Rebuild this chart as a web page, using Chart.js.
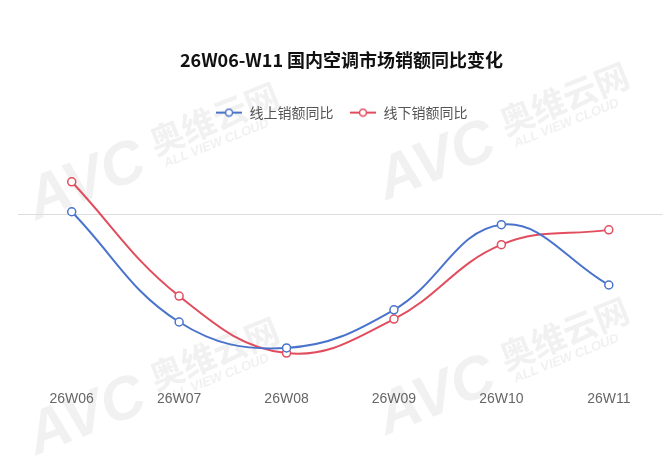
<!DOCTYPE html>
<html>
<head>
<meta charset="utf-8">
<script src="https://cdn.jsdelivr.net/npm/chart.js@4/dist/chart.umd.min.js"></script>
<style>
  html, body { margin: 0; padding: 0; background: #fff; }
  #wrap { width: 669px; height: 474px; position: relative; }
</style>
</head>
<body>
<div id="wrap"><canvas id="yoyChart"></canvas></div>
<script>
const weeks = ['26W06', '26W07', '26W08', '26W09', '26W10', '26W11'];
const onlineYoy = [0.8, -29, -36, -25.7, -2.7, -19];
const offlineYoy = [8.9, -22, -37.4, -28.2, -8.1, -4.1];
const seriesNames = ['线上销额同比', '线下销额同比'];
const blue = '#4a74cc';
const red = '#e24d5e';

// legend marker: short line with a hollow circle
function legendMarker(color) {
    const c = document.createElement('canvas');
    c.width = 26; c.height = 10;
    const g = c.getContext('2d');
    g.strokeStyle = color;
    g.lineWidth = 2;
    g.beginPath(); g.moveTo(0, 5); g.lineTo(26, 5); g.stroke();
    g.fillStyle = '#fff';
    g.lineWidth = 1.5;
    g.beginPath(); g.arc(13, 5, 3.5, 0, Math.PI * 2); g.fill(); g.stroke();
    return c;
}

// faint AVC watermarks behind the plot
const watermark = {
    id: 'watermark',
    beforeDraw(chart) {
        const ctx = chart.ctx;
        const spots = [[30, 205], [380, 185], [380, 420], [30, 440]];
        ctx.save();
        ctx.fillStyle = '#f1f1f1';
        spots.forEach(([x, y]) => {
            ctx.save();
            ctx.translate(x, y);
            ctx.rotate(-0.38);
            ctx.font = 'italic bold 60px "Liberation Sans"';
            ctx.fillText('AVC', 0, 0);
            ctx.font = 'bold 34px "Noto Sans CJK SC"';
            ctx.fillText('奥维云网', 135, -12);
            ctx.font = 'italic bold 13px "Liberation Sans"';
            ctx.fillText('ALL VIEW CLOUD', 140, 12);
            ctx.restore();
        });
        ctx.restore();
    }
};

const ctx = document.getElementById('yoyChart').getContext('2d');
const chart = new Chart(ctx, {
    type: 'line',
    data: {
        labels: weeks,
        datasets: [{
            label: seriesNames[0],
            data: onlineYoy,
            borderColor: blue,
            pointBorderColor: blue,
            pointBackgroundColor: '#fff'
        }, {
            label: seriesNames[1],
            data: offlineYoy,
            borderColor: red,
            pointBorderColor: red,
            pointBackgroundColor: '#fff'
        }]
    },
    options: {
        responsive: true,
        maintainAspectRatio: false,
        animation: false,
        layout: { padding: { left: 18, right: 4, top: 49, bottom: 64 } },
        elements: {
            line: { tension: 0.4, borderWidth: 2, fill: false },
            point: { radius: 4, borderWidth: 1.5, hoverRadius: 5 }
        },
        plugins: {
            title: {
                display: true,
                text: '26W06-W11 国内空调市场销额同比变化',
                color: '#111',
                font: { size: 18, weight: 'bold', family: '"Noto Sans CJK SC", sans-serif' },
                padding: { top: 0, bottom: 19 }
            },
            legend: {
                labels: {
                    usePointStyle: true,
                    pointStyleWidth: 27,
                    color: '#555',
                    font: { size: 14, family: '"Noto Sans CJK SC", sans-serif' },
                    padding: 16,
                    generateLabels: ch => ch.data.datasets.map((ds, i) => ({
                        text: ds.label,
                        fontColor: '#555',
                        pointStyle: legendMarker(ds.borderColor),
                        strokeStyle: ds.borderColor,
                        lineWidth: 0,
                        hidden: !ch.isDatasetVisible(i),
                        datasetIndex: i
                    }))
                }
            }
        },
        scales: {
            x: {
                offset: true,
                grid: { display: false },
                border: { display: false },
                ticks: { color: '#666', font: { size: 14, family: '"Liberation Sans", Arial' }, padding: 2 }
            },
            y: {
                min: -45,
                max: 23,
                ticks: { display: false, stepSize: 5 },
                border: { display: false },
                grid: {
                    drawTicks: false,
                    color: c => c.tick && c.tick.value === 0 ? '#dcdcdc' : 'transparent'
                }
            }
        }
    },
    plugins: [watermark]
});
</script>
</body>
</html>
